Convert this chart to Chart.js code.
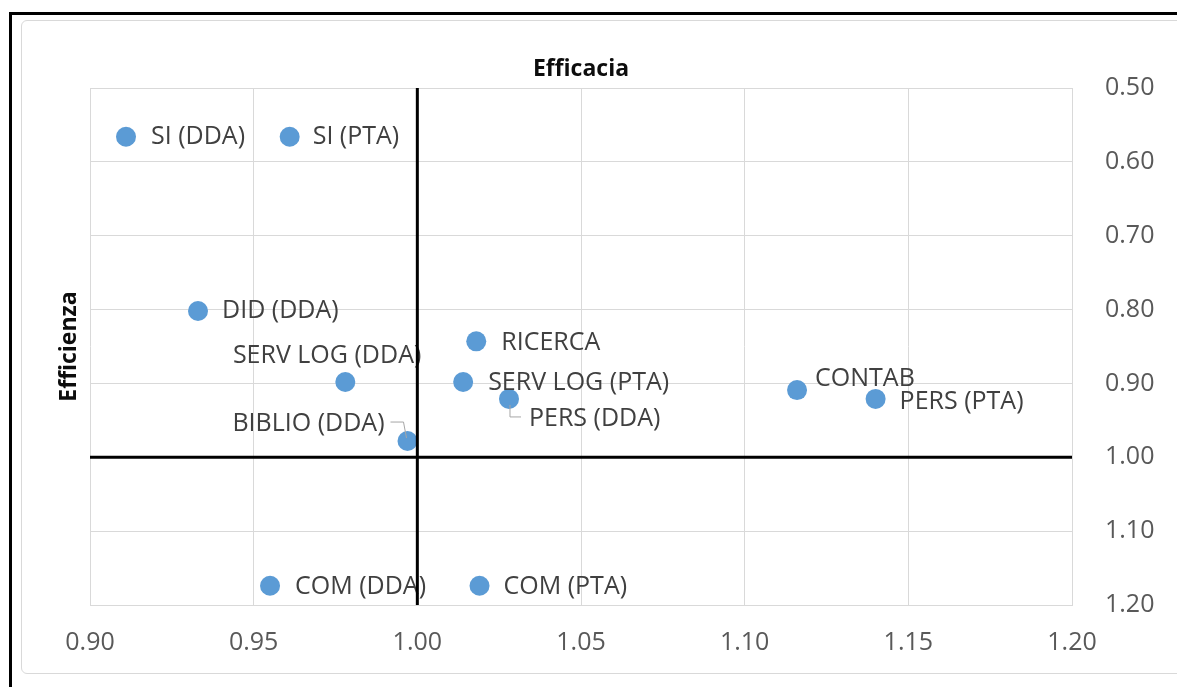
<!DOCTYPE html>
<html>
<head>
<meta charset="utf-8">
<script src="https://cdn.jsdelivr.net/npm/chart.js@4"></script>
<style>
    body { margin: 0; background: #fff; overflow: hidden; }
    #cornice { position: absolute; left: 9px; top: 12px; width: 1200px; height: 700px; border-left: 3px solid #000; border-top: 3px solid #000; }
    #bordo { position: absolute; left: 21px; top: 20px; width: 1180px; height: 652px; border: 1px solid #d9d9d9; border-radius: 6px; }
    #grafico { position: absolute; left: 0; top: 0; }
</style>
</head>
<body>
<div id="cornice"></div>
<div id="bordo"></div>
<canvas id="grafico" width="1177" height="687"></canvas>
<script>
const etichette = ['SI (DDA)', 'SI (PTA)', 'DID (DDA)', 'RICERCA', 'SERV LOG (DDA)', 'SERV LOG (PTA)',
    'PERS (DDA)', 'CONTAB', 'PERS (PTA)', 'BIBLIO (DDA)', 'COM (DDA)', 'COM (PTA)'];
const efficacia = [0.911, 0.961, 0.933, 1.018, 0.978, 1.014, 1.028, 1.116, 1.140, 0.997, 0.955, 1.019];
const efficienza = [0.566, 0.566, 0.802, 0.843, 0.898, 0.898, 0.921, 0.909, 0.921, 0.978, 1.174, 1.174];
const tickX = [0.90, 0.95, 1.00, 1.05, 1.10, 1.15, 1.20];
const tickY = [0.50, 0.60, 0.70, 0.80, 0.90, 1.00, 1.10, 1.20];
const titoloX = 'Efficacia';
const titoloY = 'Efficienza';

// posizione delle etichette rispetto al punto (come nel grafico Excel)
const posEtichette = [
    { dx: 25, dy: 0 }, { dx: 23, dy: 0 }, { dx: 24, dy: 0 }, { dx: 25, dy: 2 },
    { dx: 76, dy: -26, align: 'right' }, { dx: 25, dy: 1 },
    { dx: 20, dy: 20, guida: [[1, 6], [1, 18], [12, 18]] },
    { dx: 18, dy: -11 }, { dx: 24, dy: 3 },
    { dx: -23, dy: -17, align: 'right', guida: [[-17, -19], [-4, -19], [-1, -3]] },
    { dx: 25, dy: 1 }, { dx: 24, dy: 1 }
];

const punti = efficacia.map((x, i) => ({ x: x, y: efficienza[i] }));

const pluginEtichette = {
    id: 'etichette',
    afterDatasetsDraw(chart) {
        const ctx = chart.ctx;
        const meta = chart.getDatasetMeta(0);
        ctx.save();
        ctx.font = '25px "Open Sans"';
        ctx.fillStyle = '#404040';
        ctx.textBaseline = 'middle';
        meta.data.forEach((el, i) => {
            const p = posEtichette[i];
            if (p.guida) {
                ctx.strokeStyle = '#a6a6a6';
                ctx.lineWidth = 1;
                ctx.beginPath();
                p.guida.forEach((g, k) => {
                    if (k === 0) ctx.moveTo(el.x + g[0], el.y + g[1]);
                    else ctx.lineTo(el.x + g[0], el.y + g[1]);
                });
                ctx.stroke();
            }
            ctx.textAlign = p.align || 'left';
            ctx.fillText(etichette[i], el.x + p.dx, el.y + p.dy);
        });
        ctx.restore();
    },
    afterDraw(chart) {
        const ctx = chart.ctx;
        const area = chart.chartArea;
        const x1 = chart.scales.x.getPixelForValue(1.0);
        const y1 = chart.scales.y.getPixelForValue(1.0);
        ctx.save();
        ctx.strokeStyle = '#000';
        ctx.lineWidth = 3;
        ctx.beginPath();
        ctx.moveTo(x1, area.top);
        ctx.lineTo(x1, area.bottom);
        ctx.moveTo(area.left, y1);
        ctx.lineTo(area.right, y1);
        ctx.stroke();
        // titoli
        ctx.font = 'bold 23px "Open Sans"';
        ctx.fillStyle = '#0d0d0d';
        ctx.textAlign = 'center';
        ctx.textBaseline = 'middle';
        ctx.fillText(titoloX, (area.left + area.right) / 2, 69);
        ctx.translate(69, (area.top + area.bottom) / 2);
        ctx.rotate(-Math.PI / 2);
        ctx.fillText(titoloY, 0, 0);
        ctx.restore();
    }
};

new Chart(document.getElementById('grafico'), {
    type: 'scatter',
    data: {
        datasets: [{
            label: 'Aree',
            data: punti,
            backgroundColor: '#5b9bd5',
            borderWidth: 0,
            pointRadius: 10,
            pointHoverRadius: 10
        }]
    },
    options: {
        responsive: false,
        animation: false,
        devicePixelRatio: 1,
        layout: { padding: { left: 90, top: 88, right: 0, bottom: 0 } },
        plugins: {
            legend: { display: false },
            tooltip: { enabled: false },
            title: { display: false }
        },
        scales: {
            x: {
                type: 'linear',
                min: 0.9,
                max: 1.2,
                afterBuildTicks: (scale) => { scale.ticks = tickX.map(v => ({ value: v })); },
                afterFit: (scale) => { scale.height = 82; },
                grid: { color: '#d9d9d9', drawTicks: false },
                border: { color: '#d9d9d9' },
                ticks: {
                    padding: 23,
                    color: '#595959',
                    font: { family: 'Open Sans', size: 25 },
                    callback: (v) => v.toFixed(2)
                }
            },
            y: {
                type: 'linear',
                position: 'right',
                reverse: true,
                min: 0.5,
                max: 1.2,
                afterBuildTicks: (scale) => { scale.ticks = tickY.map(v => ({ value: v })); },
                afterFit: (scale) => { scale.width = 105; },
                grid: { color: '#d9d9d9', drawTicks: false },
                border: { color: '#d9d9d9' },
                ticks: {
                    padding: 33,
                    color: '#595959',
                    font: { family: 'Open Sans', size: 25 },
                    callback: (v) => v.toFixed(2)
                }
            }
        }
    },
    plugins: [pluginEtichette]
});
</script>
</body>
</html>
